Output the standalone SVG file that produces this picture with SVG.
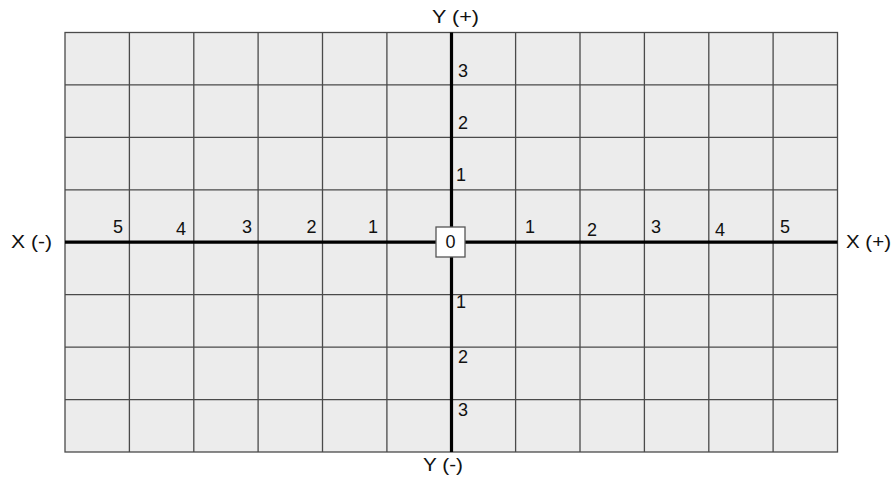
<svg xmlns="http://www.w3.org/2000/svg" width="895" height="477" viewBox="0 0 895 477">
<style>
.grid{stroke:#4a4a4a;stroke-width:1.3;fill:none}
.bg{fill:#ececec;stroke:#4a4a4a;stroke-width:1.3}
.axis{stroke:#000;stroke-width:3.2}
text{font-family:"Liberation Sans",Arial,sans-serif;font-size:18px;fill:#111}
.lbl{font-size:18px}
</style>
<rect x="0" y="0" width="895" height="477" fill="#fff"/>
<g id="grid">
<rect class="bg" x="65" y="32.5" width="772.5" height="419.5"/>
<path class="grid" d="M129.4 32.5V452M193.8 32.5V452M258.1 32.5V452M322.5 32.5V452M386.9 32.5V452M515.6 32.5V452M580 32.5V452M644.4 32.5V452M708.8 32.5V452M773.1 32.5V452M65 84.9H837.5M65 137.4H837.5M65 189.8H837.5M65 294.7H837.5M65 347.1H837.5M65 399.6H837.5"/>
</g>
<g id="connectors">
<line class="axis" x1="65" y1="242.2" x2="837.5" y2="242.2"/>
<line class="axis" x1="451.5" y1="32.5" x2="451.5" y2="452"/>
</g>
<g id="origin">
<rect x="436" y="227" width="29" height="30" fill="#fff" stroke="#555" stroke-width="1.3"/>
<text x="450.5" y="248" text-anchor="middle">0</text>
</g>
<g id="axis-labels">
<text class="lbl" x="11" y="248" textLength="41" lengthAdjust="spacingAndGlyphs">X (-)</text>
<text class="lbl" x="846" y="248" textLength="45" lengthAdjust="spacingAndGlyphs">X (+)</text>
<text class="lbl" x="432" y="23" textLength="47" lengthAdjust="spacingAndGlyphs">Y (+)</text>
<text class="lbl" x="423" y="471" textLength="40" lengthAdjust="spacingAndGlyphs">Y (-)</text>
</g>
<g id="x-ticks">
<text x="123" y="232.5" text-anchor="end">5</text>
<text x="186" y="234.5" text-anchor="end">4</text>
<text x="252" y="232.5" text-anchor="end">3</text>
<text x="316.5" y="232.5" text-anchor="end">2</text>
<text x="378" y="232.5" text-anchor="end">1</text>
<text x="525" y="233">1</text>
<text x="587" y="236">2</text>
<text x="651" y="233">3</text>
<text x="715" y="236">4</text>
<text x="780" y="233">5</text>
</g>
<g id="y-ticks">
<text x="458" y="76.5">3</text>
<text x="458" y="128.5">2</text>
<text x="456" y="181">1</text>
<text x="456" y="308">1</text>
<text x="458" y="363">2</text>
<text x="458" y="416">3</text>
</g>
</svg>
